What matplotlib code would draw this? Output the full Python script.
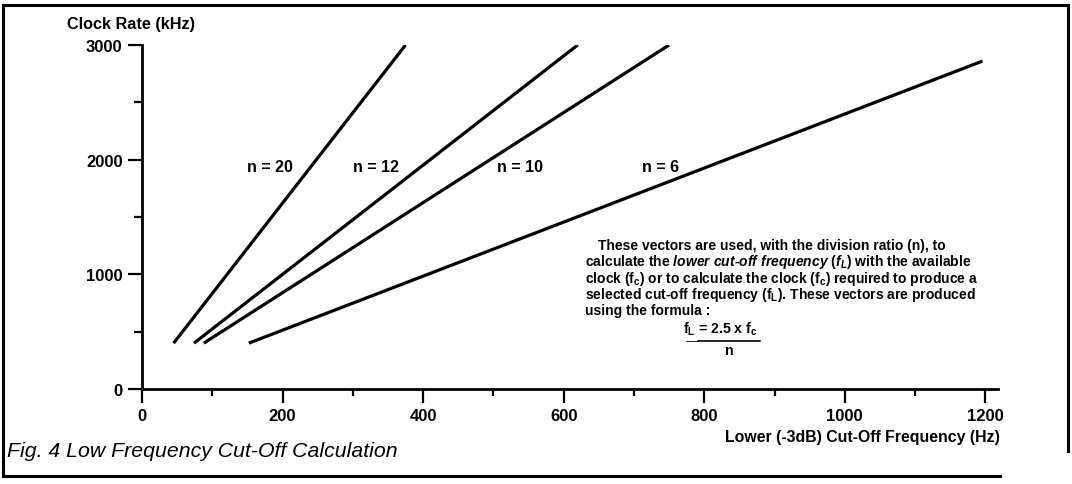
import matplotlib
matplotlib.use("Agg")
import matplotlib.pyplot as plt
from matplotlib.lines import Line2D
from matplotlib.ticker import MultipleLocator

plt.rcParams['font.family'] = ['Liberation Sans', 'DejaVu Sans']
plt.rcParams['mathtext.fontset'] = 'custom'
plt.rcParams['mathtext.rm'] = 'Liberation Sans:bold'
plt.rcParams['mathtext.it'] = 'Liberation Sans:italic:bold'
plt.rcParams['mathtext.bf'] = 'Liberation Sans:bold'

# Data (cut-off frequency Hz, clock rate kHz)
n_labels = ["n = 20", "n = 12", "n = 10", "n = 6"]
n20_x = [45, 375]
n20_y = [400, 3000]
n12_x = [74, 620]
n12_y = [400, 3000]
n10_x = [88, 750]
n10_y = [400, 3000]
n6_x = [152, 1196]
n6_y = [400, 2860]
label_x = [182, 333, 538, 738]
label_y = [1940, 1940, 1940, 1940]
x_ticks = [0, 200, 400, 600, 800, 1000, 1200]
y_ticks = [0, 1000, 2000, 3000]

W, H = 1072, 485
fig = plt.figure(figsize=(W / 100, H / 100), dpi=100)
ax = fig.add_axes([142 / W, (H - 390) / H, (998 - 142) / W, (390 - 46) / H])

for xs, ys in [(n20_x, n20_y), (n12_x, n12_y), (n10_x, n10_y), (n6_x, n6_y)]:
    ax.plot(xs, ys, color='black', lw=2.3, solid_capstyle='butt')

for lab, lx, ly in zip(n_labels, label_x, label_y):
    ax.text(lx, ly, lab, ha='center', va='center', fontsize=11.5, fontweight='bold')

ax.set_xlim(0, 1218)
ax.set_ylim(0, 3000)
ax.spines['top'].set_visible(False)
ax.spines['right'].set_visible(False)
ax.spines['left'].set_linewidth(2)
ax.spines['bottom'].set_linewidth(2)
ax.set_xticks(x_ticks)
ax.set_yticks(y_ticks)
ax.xaxis.set_minor_locator(MultipleLocator(100))
ax.yaxis.set_minor_locator(MultipleLocator(500))
ax.tick_params(axis='both', which='major', length=10, width=1.6, labelsize=12, pad=4)
ax.tick_params(axis='x', which='minor', length=5, width=1.6)
ax.tick_params(axis='y', which='minor', length=6, width=1.6)
for lbl in ax.get_xticklabels() + ax.get_yticklabels():
    lbl.set_fontweight('bold')

# axis titles
fig.text(67 / W, 1 - 25 / H, "Clock Rate (kHz)", ha='left', va='center', fontsize=11.7, fontweight='bold')
fig.text(1000 / W, 1 - 438 / H, "Lower (-3dB) Cut-Off Frequency (Hz)", ha='right', va='center',
         fontsize=11.4, fontweight='bold')
fig.text(7 / W, 1 - 452 / H, "Fig. 4 Low Frequency Cut-Off Calculation", ha='left', va='center',
         fontsize=15.3, style='italic')

# explanatory text
lines = [
    "These vectors are used, with the division ratio (n), to",
    r"calculate the $\mathit{lower\ cut}$-$\mathit{off\ frequency\ (f_L)}$ with the available",
    r"clock (f$_{\mathrm{c}}$) or to calculate the clock (f$_{\mathrm{c}}$) required to produce a",
    r"selected cut-off frequency (f$_{\mathrm{L}}$). These vectors are produced",
    "using the formula :",
]
y0 = 246
for i, ln in enumerate(lines):
    xl = 598 if i == 0 else 585
    fig.text(xl / W, 1 - (y0 + 16.3 * i) / H, ln, ha='left', va='center', fontsize=10.0, fontweight='bold')

fig.text(720 / W, 1 - 329 / H, r"f$_{\mathrm{L}}$ = 2.5 x f$_{\mathrm{c}}$", ha='center', va='center',
         fontsize=10.2, fontweight='bold')
fig.add_artist(Line2D([698 / W, 760 / W], [1 - 342 / H, 1 - 342 / H], color='black', lw=1.2))
fig.add_artist(Line2D([686 / W, 698 / W], [1 - 342 / H, 1 - 342 / H], color='black', lw=0.6))
fig.text(729 / W, 1 - 351 / H, "n", ha='center', va='center', fontsize=10.2, fontweight='bold')

# frame around figure
fr = dict(color='black', lw=2.2)
fig.add_artist(Line2D([3 / W, 3 / W], [1 - 6 / H, 1 - 477 / H], **fr))
fig.add_artist(Line2D([3 / W, 1068 / W], [1 - 6 / H, 1 - 6 / H], **fr))
fig.add_artist(Line2D([1068 / W, 1068 / W], [1 - 6 / H, 1 - 452 / H], **fr))
fig.add_artist(Line2D([3 / W, 1000 / W], [1 - 477 / H, 1 - 477 / H], **fr))

fig.savefig("out.png", dpi=100)
